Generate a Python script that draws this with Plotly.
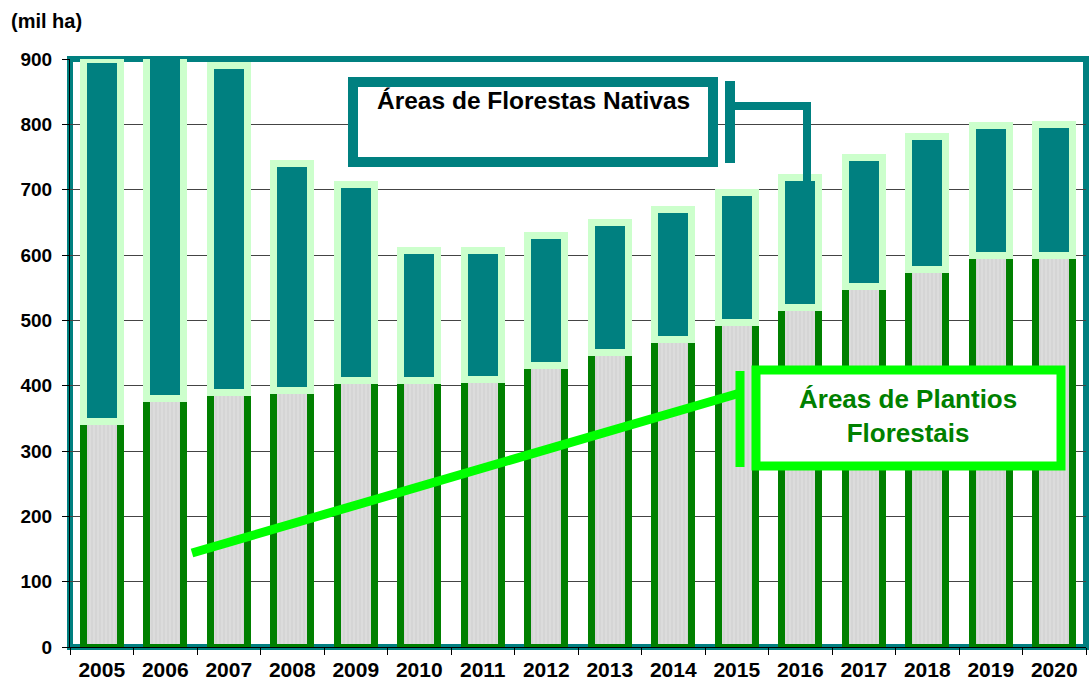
import plotly.graph_objects as go

years = ["2005", "2006", "2007", "2008", "2009", "2010", "2011", "2012",
         "2013", "2014", "2015", "2016", "2017", "2018", "2019", "2020"]
plantios = [345, 380, 390, 393, 408, 408, 410, 431, 451, 471, 497, 520, 552, 578, 600, 600]
totais = [900, 905, 890, 740, 708, 607, 607, 630, 650, 670, 695, 719, 750, 781, 798, 800]
nativas = [t - p for t, p in zip(totais, plantios)]
y_ticks = [0, 100, 200, 300, 400, 500, 600, 700, 800, 900]

W, H = 1089, 691
L, R, T, B = 70, 3, 59, 44
PW, PH = W - L - R, H - T - B


def px(x):
    return (x - L) / PW


def py(y):
    return (H - B - y) / PH


FONT = "Liberation Sans, Arial, sans-serif"
TEAL = "#008080"
GREEN = "#008000"
LIME = "#00FF00"
PALE = "#CCFFCC"

fig = go.Figure()
fig.add_trace(go.Bar(
    x=years, y=plantios, name="Áreas de Plantios Florestais",
    width=0.58,
    marker=dict(color="#D8D8D8", line=dict(color=GREEN, width=7),
                pattern=dict(shape="|", fgcolor="#C4C4C4", bgcolor="#DCDCDC",
                             size=4, solidity=0.3)),
    cliponaxis=False,
))
fig.add_trace(go.Bar(
    x=years, y=nativas, name="Áreas de Florestas Nativas",
    width=0.58,
    marker=dict(color=TEAL, line=dict(color=PALE, width=7)),
    cliponaxis=False,
))

shapes = [
    # plot frame
    dict(type="rect", xref="paper", yref="paper", x0=0, x1=1, y0=0, y1=1,
         line=dict(color=TEAL, width=6), layer="below"),
    # native box
    dict(type="rect", xref="paper", yref="paper", x0=px(353), x1=px(713),
         y0=py(162), y1=py(82), line=dict(color=TEAL, width=10), fillcolor="white"),
    dict(type="line", xref="paper", yref="paper", x0=px(730), x1=px(730),
         y0=py(81), y1=py(163), line=dict(color=TEAL, width=10)),
    dict(type="path", xref="paper", yref="paper",
         path=f"M {px(730)},{py(106)} L {px(807)},{py(106)} L {px(807)},{py(195)}",
         line=dict(color=TEAL, width=8)),
    # plantios box
    dict(type="rect", xref="paper", yref="paper", x0=px(756), x1=px(1061),
         y0=py(466), y1=py(370), line=dict(color=LIME, width=9), fillcolor="white"),
    dict(type="line", xref="paper", yref="paper", x0=px(740), x1=px(740),
         y0=py(371), y1=py(467), line=dict(color=LIME, width=9)),
    dict(type="line", xref="paper", yref="paper", x0=px(740), x1=px(192),
         y0=py(393), y1=py(553), line=dict(color=LIME, width=9)),
]

annotations = [
    dict(text="(mil ha)", xref="paper", yref="paper", x=px(9), y=py(21),
         xanchor="left", yanchor="middle", showarrow=False,
         font=dict(family=FONT, size=20, color="black", weight="bold")),
    dict(text="Áreas de Florestas Nativas", xref="paper", yref="paper",
         x=px(533), y=py(101), xanchor="center", yanchor="middle", showarrow=False,
         font=dict(family=FONT, size=24.5, color="black", weight="bold")),
    dict(text="Áreas de Plantios<br>Florestais", xref="paper", yref="paper",
         x=px(908), y=py(416), xanchor="center", yanchor="middle", showarrow=False,
         font=dict(family=FONT, size=26, color=GREEN, weight="bold")),
]

fig.update_layout(
    width=W, height=H,
    margin=dict(l=L, r=R, t=T, b=B, pad=0),
    barmode="stack",
    showlegend=False,
    plot_bgcolor="white", paper_bgcolor="white",
    shapes=shapes, annotations=annotations,
    font=dict(family=FONT, color="black"),
)
fig.update_xaxes(
    type="category", range=[-0.5, 15.5],
    tickson="boundaries", ticks="outside", ticklen=7, tickcolor="black",
    showline=True, linecolor="black", linewidth=1,
    tickfont=dict(family=FONT, size=21, color="black", weight="bold"),
    ticklabelstandoff=4,
    showgrid=False,
)
fig.update_yaxes(
    range=[0, 900], tickvals=y_ticks, ticks="outside", ticklen=7, tickcolor="black",
    showline=True, linecolor="black", linewidth=1,
    showgrid=True, gridcolor="#444444", gridwidth=1,
    tickfont=dict(family=FONT, size=19, color="black", weight="bold"),
    ticklabelstandoff=6,
    zeroline=False,
)

fig.write_html("out.html",
               config={"displayModeBar": False},
               post_script="document.body.style.margin='0';document.body.style.padding='0';")
